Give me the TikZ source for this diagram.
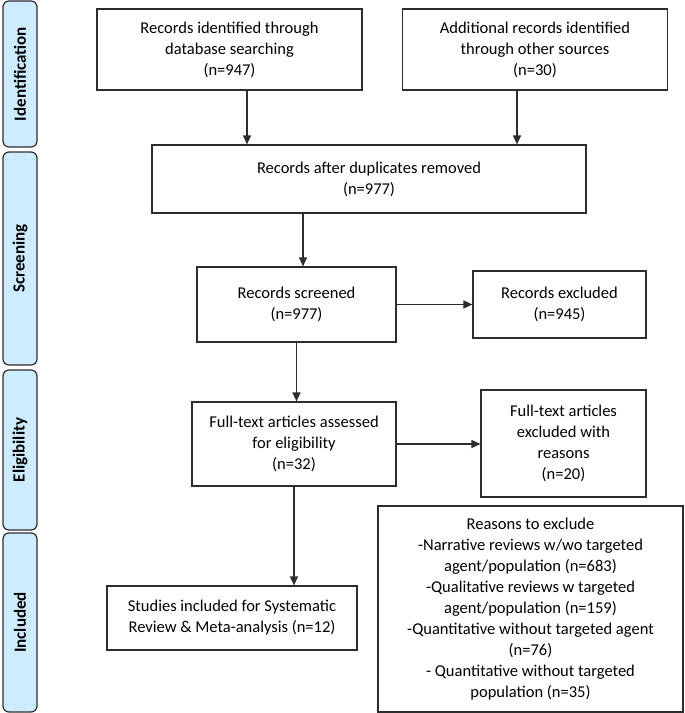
\documentclass[tikz,border=0pt]{standalone}
\usepackage{fontspec}
\setmainfont{Carlito}
\usetikzlibrary{arrows.meta}
\definecolor{tabblue}{RGB}{206,236,255}
\definecolor{edge}{RGB}{45,45,45}

\begin{document}
\begin{tikzpicture}
  [x=1pt,y=-1pt,line width=1.2pt,>={Triangle[length=9pt,width=8pt]},
   every node/.style={draw=edge,align=center,inner sep=0pt,font=\fontsize{16.5}{21}\selectfont},
   tab/.style={fill=tabblue,rounded corners=6pt,rotate=90,minimum height=34pt,font=\fontsize{17}{20}\selectfont\bfseries}]

  \useasboundingbox (0,0) rectangle (685,713);

  % phase tabs
  \node[tab,minimum width=146pt] (t1) at (20,74) {Identification};
  \node[tab,minimum width=213pt] (t2) at (20,258.5) {Screening};
  \node[tab,minimum width=160pt] (t3) at (20,450) {Eligibility};
  \node[tab,minimum width=179pt] (t4) at (20,622.5) {Included};

  % boxes
  \node[minimum width=265pt,minimum height=81pt] (n1) at (229.5,49.5) {Records identified through\\database searching\\(n=947)};
  \node[minimum width=265pt,minimum height=81pt] (n2) at (535,49.5) {Additional records identified\\through other sources\\(n=30)};
  \node[minimum width=434pt,minimum height=68pt] (n3) at (369,179) {Records after duplicates removed\\(n=977)};
  \node[minimum width=199pt,minimum height=75pt] (n4) at (296.5,304.5) {Records screened\\(n=977)};
  \node[minimum width=173pt,minimum height=67pt] (n5) at (559.5,304.5) {Records excluded\\(n=945)};
  \node[minimum width=204pt,minimum height=84pt] (n6) at (294,444) {Full-text articles assessed\\for eligibility\\(n=32)};
  \node[minimum width=165pt,minimum height=107pt] (n7) at (563.5,443.5) {Full-text articles\\excluded with\\reasons\\(n=20)};
  \node[minimum width=250pt,minimum height=64pt] (n8) at (232,618) {Studies included for Systematic\\Review \& Meta-analysis (n=12)};
  \node[minimum width=305pt,minimum height=206pt] (n9) at (530.5,609) {Reasons to exclude\\-Narrative reviews w/wo targeted\\agent/population (n=683)\\-Qualitative reviews w targeted\\agent/population (n=159)\\-Quantitative without targeted agent\\(n=76)\\- Quantitative without targeted\\population (n=35)};

  \coordinate (a1) at ([xshift=17.5pt]n1.south);
  \coordinate (a2) at ([xshift=-18pt]n2.south);
  \coordinate (a3) at ([xshift=-66pt]n3.south);

  \foreach \from/\to in {a1/n3.north,a2/n3.north,a3/n4.north,n4.south/n6.north,n6.south/n8.north}
    \draw[->,draw=edge] (\from) -- (\from |- \to);
  \foreach \from/\to in {n4.east/n5.west,n6.east/n7.west}
    \draw[->,draw=edge] (\from) -- (\from -| \to);

\end{tikzpicture}
\end{document}
